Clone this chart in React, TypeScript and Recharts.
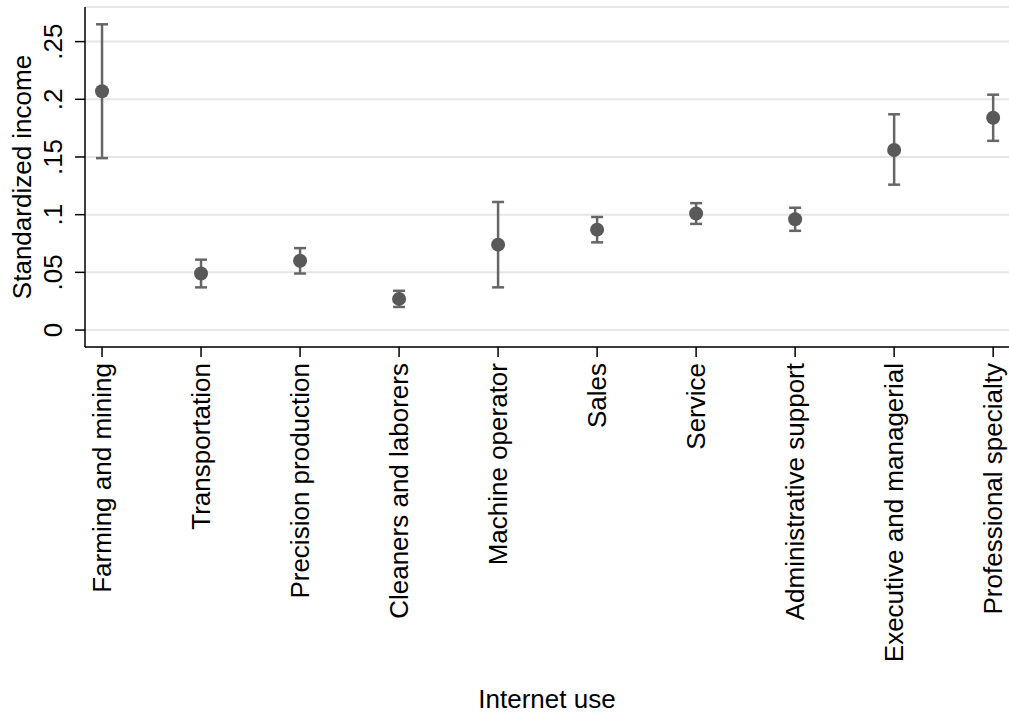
import React from "react"
import { ScatterChart, Scatter, XAxis, YAxis, CartesianGrid, ErrorBar, Label } from "recharts"

const categories = [
  "Farming and mining",
  "Transportation",
  "Precision production",
  "Cleaners and laborers",
  "Machine operator",
  "Sales",
  "Service",
  "Administrative support",
  "Executive and managerial",
  "Professional specialty",
]
const means = [0.207, 0.049, 0.06, 0.027, 0.074, 0.087, 0.101, 0.096, 0.156, 0.184]
const lower = [0.149, 0.037, 0.049, 0.02, 0.037, 0.076, 0.092, 0.086, 0.126, 0.164]
const upper = [0.265, 0.061, 0.071, 0.034, 0.111, 0.098, 0.11, 0.106, 0.187, 0.204]
const yTicks = [0, 0.05, 0.1, 0.15, 0.2, 0.25]

const data = categories.map((name, i) => ({
  x: i,
  name,
  y: means[i],
  err: [means[i] - lower[i], upper[i] - means[i]],
}))

const FONT = "'Liberation Sans', Arial, Helvetica, sans-serif"
const fmtY = (v: number) => (v === 0 ? "0" : String(v).replace(/^0/, ""))

function XTick(props: any) {
  const { x, y, payload } = props
  return (
    <text
      x={x}
      y={y}
      transform={`rotate(-90, ${x}, ${y})`}
      textAnchor="end"
      dy="0.35em"
      fontSize={26}
      fontFamily={FONT}
      fill="#000"
    >
      {categories[payload.value]}
    </text>
  )
}

function YTick(props: any) {
  const { x, y, payload } = props
  return (
    <text
      x={x}
      y={y}
      transform={`rotate(-90, ${x}, ${y})`}
      textAnchor="middle"
      fontSize={26}
      fontFamily={FONT}
      fill="#000"
    >
      {fmtY(payload.value)}
    </text>
  )
}

function YTitle() {
  return (
    <text
      x={31}
      y={177}
      transform="rotate(-90, 31, 177)"
      textAnchor="middle"
      fontSize={26}
      fontFamily={FONT}
      fill="#000"
    >
      Standardized income
    </text>
  )
}

function XTitle() {
  return (
    <text x={547} y={708} textAnchor="middle" fontSize={26} fontFamily={FONT} fill="#000">
      Internet use
    </text>
  )
}

const Dot = (p: any) => <circle cx={p.cx} cy={p.cy} r={7} fill="#595959" />

export default function App() {
  return (
    <div style={{ position: "absolute", left: 0, top: 0, background: "#fff" }}>
      <ScatterChart width={1009} height={714} margin={{ top: 7, right: 0, bottom: 0, left: 0 }}>
        <CartesianGrid vertical={false} stroke="#e6e6e6" strokeWidth={2} />
        <XAxis
          type="number"
          dataKey="x"
          domain={[-0.172, 9.16]}
          ticks={[0, 1, 2, 3, 4, 5, 6, 7, 8, 9]}
          allowDataOverflow
          height={367}
          interval={0}
          tickSize={10}
          tickMargin={6}
          stroke="#000"
          tickLine={{ stroke: "#000", strokeWidth: 1.5 }}
          axisLine={{ stroke: "#000", strokeWidth: 1.5 }}
          tick={<XTick />}
        >
          <Label content={<XTitle />} />
        </XAxis>
        <YAxis
          type="number"
          dataKey="y"
          domain={[-0.0147, 0.28]}
          ticks={yTicks}
          allowDataOverflow
          width={85}
          interval={0}
          tickSize={10}
          tickMargin={13}
          stroke="#000"
          tickLine={{ stroke: "#000", strokeWidth: 1.5 }}
          axisLine={{ stroke: "#000", strokeWidth: 1.5 }}
          tick={<YTick />}
        >
          <Label content={<YTitle />} />
        </YAxis>
        <Scatter data={data} shape={Dot} isAnimationActive={false}>
          <ErrorBar dataKey="err" direction="y" width={6} stroke="#666" strokeWidth={2.5} isAnimationActive={false} />
        </Scatter>
      </ScatterChart>
    </div>
  )
}
